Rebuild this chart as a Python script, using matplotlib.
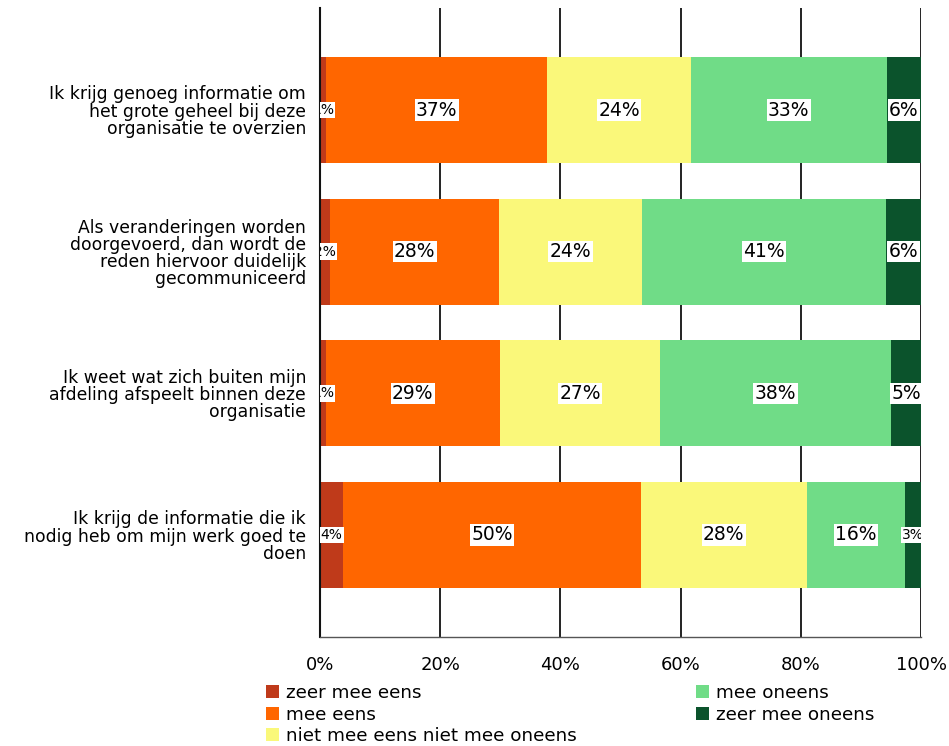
import matplotlib.pyplot as plt
import numpy as np
from matplotlib.patches import Patch

# Stellingen en antwoordverdeling (percentages per stelling)
stellingen = [
    'Ik krijg genoeg informatie om\nhet grote geheel bij deze\norganisatie te overzien',
    'Als veranderingen worden\ndoorgevoerd, dan wordt de\nreden hiervoor duidelijk\ngecommuniceerd',
    'Ik weet wat zich buiten mijn\nafdeling afspeelt binnen deze\norganisatie',
    'Ik krijg de informatie die ik\nnodig heb om mijn werk goed te\ndoen',
]
antwoorden = ['zeer mee eens', 'mee eens', 'niet mee eens niet mee oneens',
              'mee oneens', 'zeer mee oneens']
kleuren = ['#BF3A1A', '#FF6600', '#FAF87A', '#70DC87', '#0B532C']

zeer_mee_eens = [1.0, 1.7, 1.0, 3.8]
mee_eens = [36.8, 28.1, 28.9, 49.6]
neutraal = [23.9, 23.8, 26.7, 27.6]
mee_oneens = [32.6, 40.6, 38.4, 16.3]
zeer_mee_oneens = [5.7, 5.8, 5.0, 2.7]

ticks = [0, 20, 40, 60, 80, 100]
tick_labels = ['0%', '20%', '40%', '60%', '80%', '100%']

series = [zeer_mee_eens, mee_eens, neutraal, mee_oneens, zeer_mee_oneens]

fig = plt.figure(figsize=(9.49, 7.46), dpi=100)
ax = fig.add_axes([320 / 949, 1 - 637 / 746, 601 / 949, 629 / 746])

y = np.arange(len(stellingen))
left = np.zeros(len(stellingen))
for vals, kleur in zip(series, kleuren):
    vals = np.array(vals)
    ax.barh(y, vals, left=left, height=0.75, color=kleur, zorder=2)
    for yi, l, v in zip(y, left, vals):
        klein = v < 4.5
        ax.text(l + v / 2, yi, f'{v:.0f}%', ha='center', va='center',
                fontsize=10 if klein else 13.5, zorder=3, clip_on=True,
                bbox=dict(facecolor='white', edgecolor='none', pad=1))
    left += vals

ax.set_xlim(0, 100)
ax.set_ylim(3.72, -0.72)
ax.set_xticks(ticks)
ax.set_xticklabels(tick_labels, fontsize=13)
ax.set_yticks(y)
ax.set_yticklabels(stellingen, fontsize=12.4, linespacing=0.93, ha='right')
ax.tick_params(axis='y', length=0, pad=10)
ax.tick_params(axis='x', length=0, pad=14)
ax.xaxis.grid(True, color='#111111', linewidth=1.3, zorder=0)
ax.set_axisbelow(True)

for s in ['top', 'right']:
    ax.spines[s].set_visible(False)
ax.spines['left'].set_color('#111111')
ax.spines['left'].set_linewidth(1.5)
ax.spines['bottom'].set_color('#555555')
ax.spines['bottom'].set_linewidth(1)

handles = [Patch(facecolor=k, edgecolor='none') for k in kleuren]
leg_kw = dict(frameon=False, fontsize=13.2, handlelength=0.7, handleheight=0.7,
              handletextpad=0.4, labelspacing=0.2, borderpad=0, borderaxespad=0)
fig.legend(handles[:3], antwoorden[:3], loc='upper left',
           bbox_to_anchor=(266 / 949, 1 - 684 / 746), **leg_kw)
fig.legend(handles[3:], antwoorden[3:], loc='upper left',
           bbox_to_anchor=(696 / 949, 1 - 684 / 746), **leg_kw)

fig.savefig('out.png', dpi=100)
